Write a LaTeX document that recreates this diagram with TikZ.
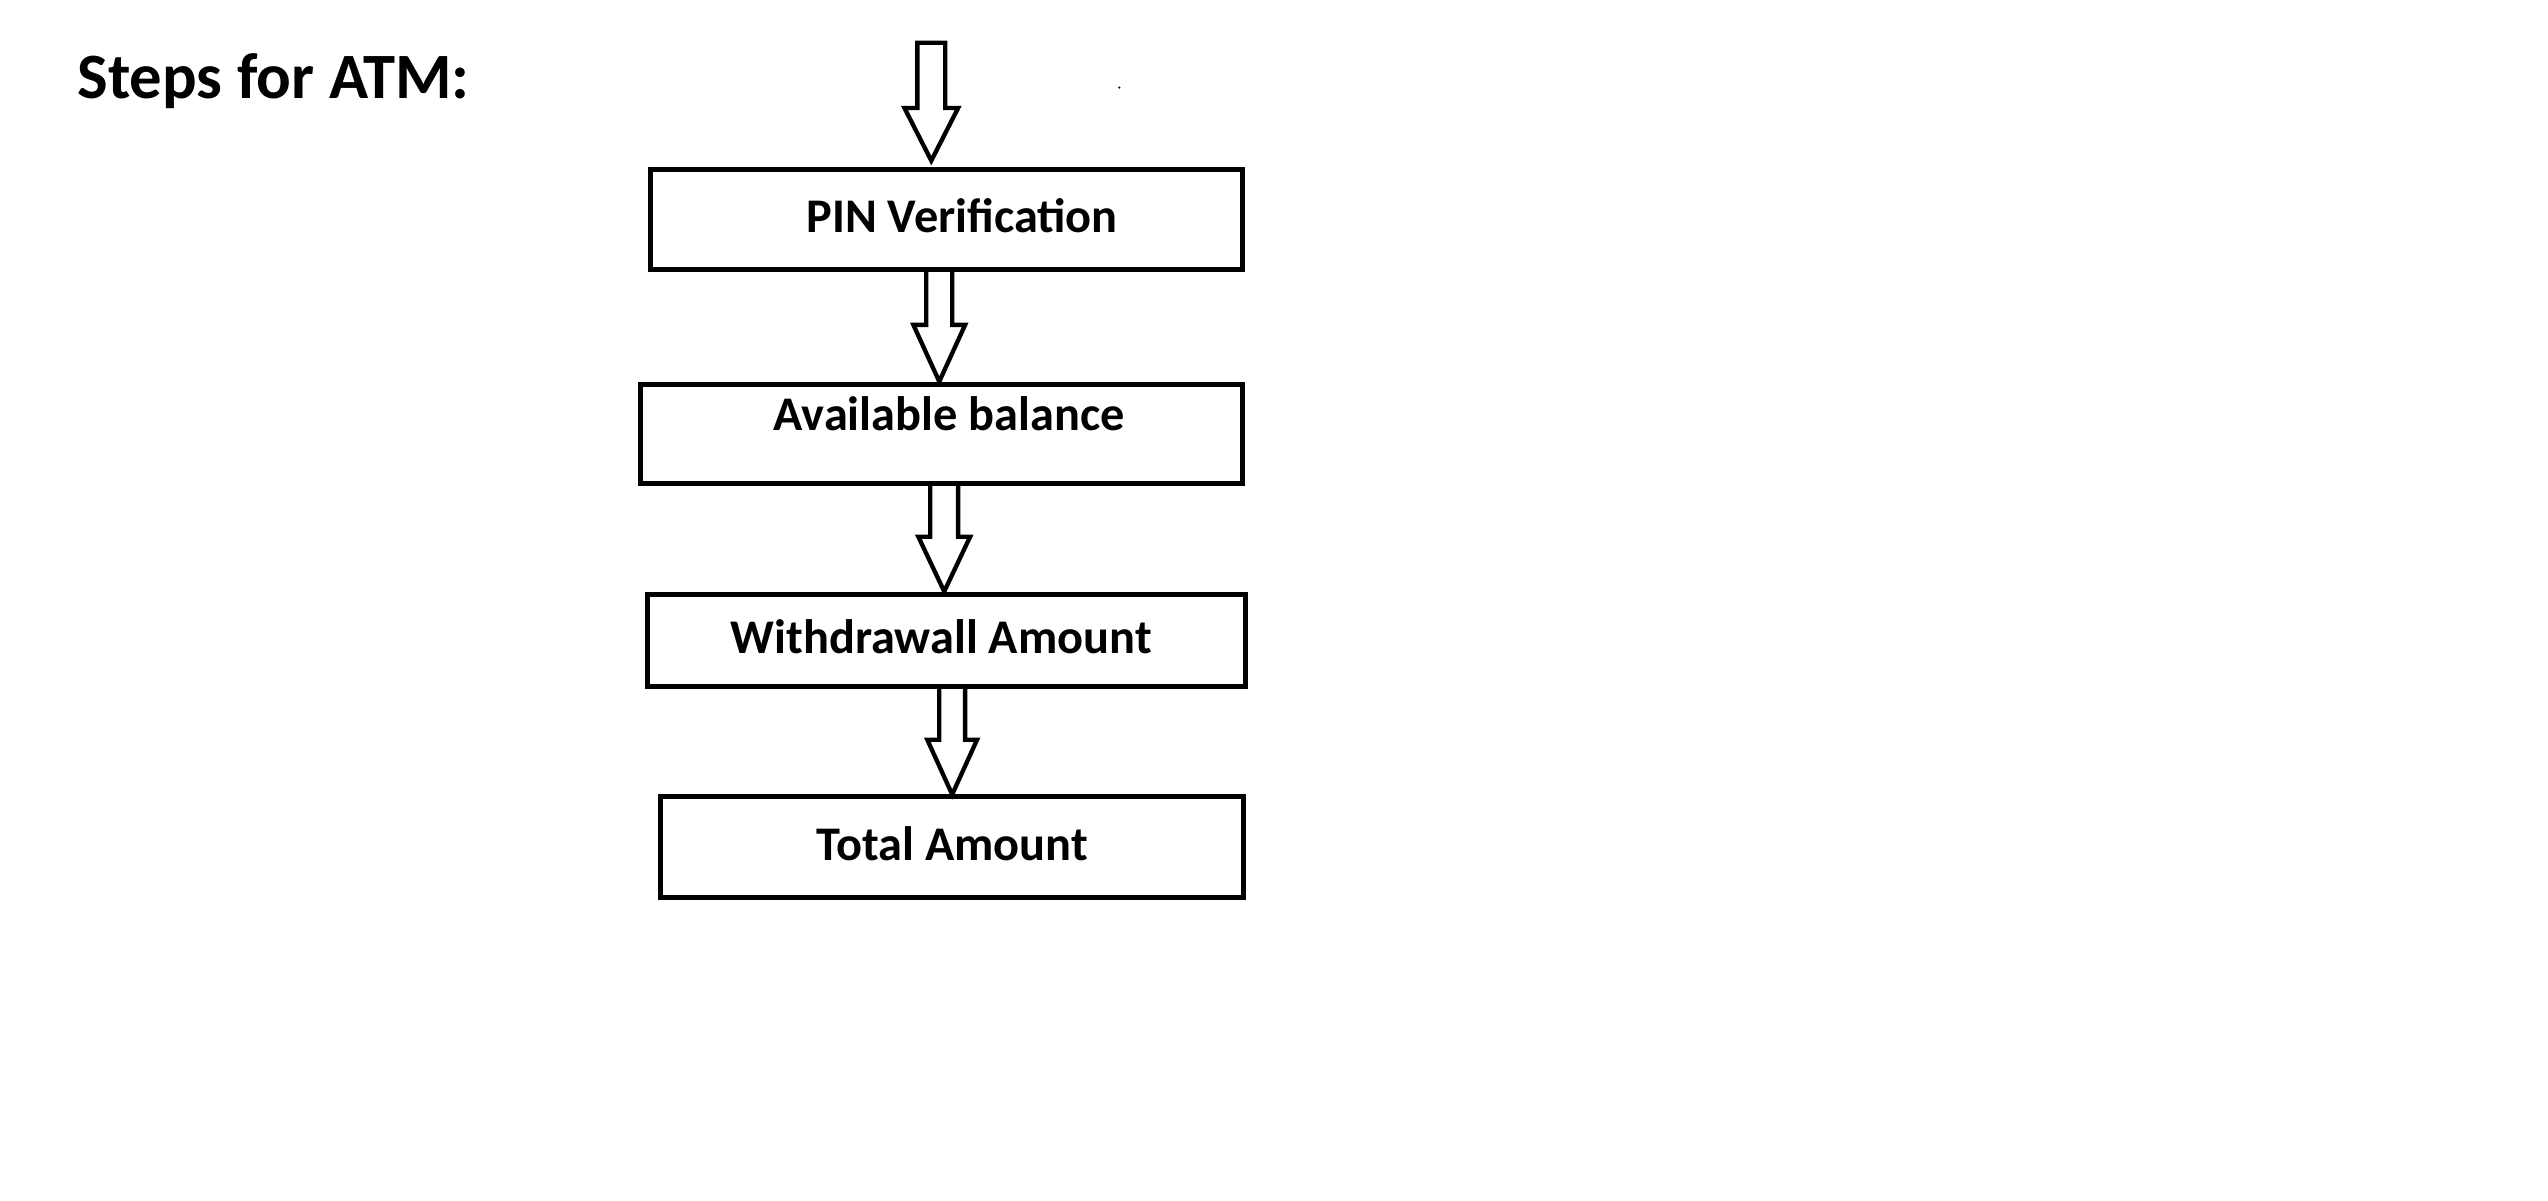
\documentclass[tikz,border=0pt]{standalone}
\usepackage{fontspec}
\setmainfont{Carlito}
\usetikzlibrary{calc}
\tikzset{
  stepbox/.style={draw, line width=1.5pt, rectangle, inner sep=0pt},
  steptext/.style={font=\fontsize{14.5}{17}\selectfont\bfseries, inner sep=0pt},
  barrow/.style={draw, line width=1.3pt, line join=miter, fill=white}
}
\begin{document}
\begin{tikzpicture}[x=0.3pt,y=-0.3pt]
\useasboundingbox (0,0) rectangle (2548,1200);
% title
\node[anchor=base west, font=\fontsize{19.4}{23}\selectfont\bfseries, inner sep=0pt] (title) at (77,98) {Steps for ATM:};
\begin{scope}[x=0.2985pt,y=-0.2985pt]
% boxes (corner coordinates)
\coordinate (b1nw) at (654,170); \coordinate (b1se) at (1249,271);
\coordinate (b2nw) at (644,386); \coordinate (b2se) at (1249,486);
\coordinate (b3nw) at (651,597); \coordinate (b3se) at (1252,690);
\coordinate (b4nw) at (664,801); \coordinate (b4se) at (1250,902);
\node[stepbox, minimum width=595*0.2985pt, minimum height=101*0.2985pt] (b1) at ($(b1nw)!0.5!(b1se)$) {};
\node[stepbox, minimum width=605*0.2985pt, minimum height=100*0.2985pt] (b2) at ($(b2nw)!0.5!(b2se)$) {};
\node[stepbox, minimum width=601*0.2985pt, minimum height=93*0.2985pt] (b3) at ($(b3nw)!0.5!(b3se)$) {};
\node[stepbox, minimum width=586*0.2985pt, minimum height=101*0.2985pt] (b4) at ($(b4nw)!0.5!(b4se)$) {};
% texts
\node[steptext] (t1) at (967,217) {PIN Verification};
\node[steptext] (t2) at (954,416) {Available balance};
\node[steptext] (t3) at (946,640) {Withdrawall Amount};
\node[steptext] (t4) at (957,848) {Total Amount};
% arrow x positions
\coordinate (ax1) at (936,0);
\coordinate (ax2) at (944,0);
\coordinate (ax3) at (949,0);
\coordinate (ax4) at (957,0);
\coordinate (start) at (936,43);
% top arrow
\draw[barrow] ($(start)+(-14,0)$) -- ($(b1.north -| ax1)+(-14,-59)$) -- ($(b1.north -| ax1)+(-27,-59)$)
  -- ($(b1.north -| ax1)+(0,-6)$) -- ($(b1.north -| ax1)+(27,-59)$) -- ($(b1.north -| ax1)+(14,-59)$)
  -- ($(start)+(14,0)$) -- cycle;
% arrow 1 -> 2
\draw[barrow] ($(b1.south -| ax2)+(-13,0)$) -- ($(b2.north -| ax2)+(-13,-57)$) -- ($(b2.north -| ax2)+(-26,-57)$)
  -- (b2.north -| ax2) -- ($(b2.north -| ax2)+(26,-57)$) -- ($(b2.north -| ax2)+(13,-57)$) -- ($(b1.south -| ax2)+(13,0)$);
% arrow 2 -> 3
\draw[barrow] ($(b2.south -| ax3)+(-14,0)$) -- ($(b3.north -| ax3)+(-14,-55)$) -- ($(b3.north -| ax3)+(-26,-55)$)
  -- (b3.north -| ax3) -- ($(b3.north -| ax3)+(26,-55)$) -- ($(b3.north -| ax3)+(14,-55)$) -- ($(b2.south -| ax3)+(14,0)$);
% arrow 3 -> 4
\draw[barrow] ($(b3.south -| ax4)+(-13,0)$) -- ($(b4.north -| ax4)+(-13,-55)$) -- ($(b4.north -| ax4)+(-25,-55)$)
  -- (b4.north -| ax4) -- ($(b4.north -| ax4)+(25,-55)$) -- ($(b4.north -| ax4)+(13,-55)$) -- ($(b3.south -| ax4)+(13,0)$);
% stray dot
\fill (1125,88) circle[radius=1.2];
\end{scope}
\end{tikzpicture}
\end{document}
